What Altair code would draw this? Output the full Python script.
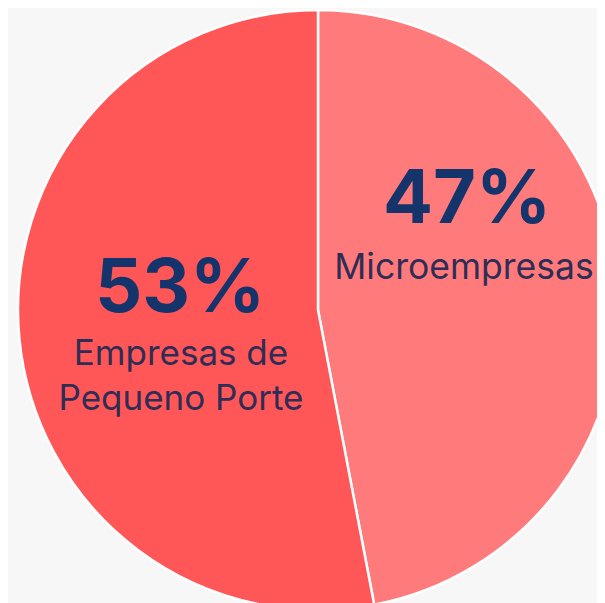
import altair as alt
import pandas as pd

categorias = ["Microempresas", "Empresas de Pequeno Porte"]
valores = [47, 53]
percentuais = ["47%", "53%"]
rotulos = ["Microempresas", "Empresas de \nPequeno Porte"]
ordem = [1, 2]
cores = ["#ff7b7b", "#ff5757"]

df = pd.DataFrame({
    "categoria": categorias,
    "valor": valores,
    "pct": percentuais,
    "rotulo": rotulos,
    "ordem": ordem,
})

PL, PT = 31, 9

base = alt.Chart(df)

pie = base.mark_arc(outerRadius=300, stroke="white", strokeWidth=2.5).encode(
    theta=alt.Theta("valor:Q", stack=True),
    color=alt.Color("categoria:N", scale=alt.Scale(domain=categorias, range=cores), legend=None),
    order=alt.Order("ordem:Q"),
)

pct_font = "Inter"
lab_font = "Inter"
navy = "#15346b"
lab_col = "#2e2d55"

micro_pct = base.transform_filter(alt.datum.ordem == 1).mark_text(
    font=pct_font, fontSize=74, fontWeight=700, color=navy, align="center", baseline="alphabetic"
).encode(text="pct:N", x=alt.value(459 - PL), y=alt.value(215 - PT))

micro_lab = base.transform_filter(alt.datum.ordem == 1).mark_text(
    font=lab_font, fontSize=35.5, fontWeight=400, color=lab_col, align="center", baseline="alphabetic"
).encode(text="rotulo:N", x=alt.value(456 - PL), y=alt.value(271 - PT))

emp_pct = base.transform_filter(alt.datum.ordem == 2).mark_text(
    font=pct_font, fontSize=74, fontWeight=700, color=navy, align="center", baseline="alphabetic"
).encode(text="pct:N", x=alt.value(172 - PL), y=alt.value(304 - PT))

emp_lab = base.transform_filter(alt.datum.ordem == 2).mark_text(
    font=lab_font, fontSize=35, fontWeight=400, color=lab_col, align="center", baseline="alphabetic",
    lineBreak="\n", lineHeight=45
).encode(text="rotulo:N", x=alt.value(173 - PL), y=alt.value(357 - PT))

chart = alt.layer(pie, micro_pct, micro_lab, emp_pct, emp_lab).properties(
    width=558,
    height=586,
    padding={"left": PL, "top": PT, "right": 0, "bottom": 0},
    autosize=alt.AutoSizeParams(type="none"),
    background="#f7f7f7",
).configure_view(stroke=None)

chart.save("out.html", embed_options={"renderer": "svg", "actions": False})
